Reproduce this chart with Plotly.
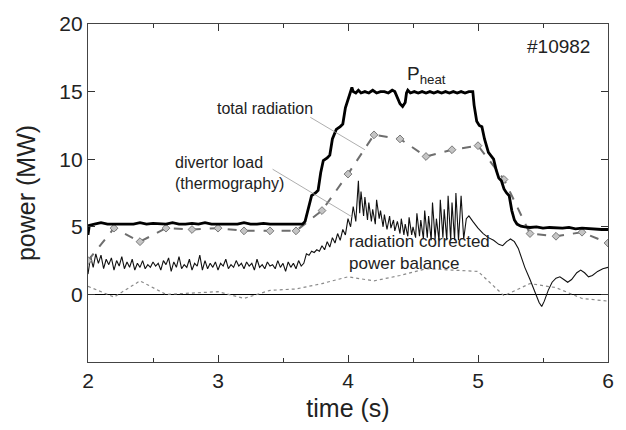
import plotly.graph_objects as go

# ---- data ----
t_heat = [2.00, 2.01, 2.05, 2.10, 2.15, 2.20, 2.25, 2.30, 2.35, 2.40, 2.45, 2.50, 2.55, 2.60, 2.65,
          2.70, 2.75, 2.80, 2.85, 2.90, 2.95, 3.00, 3.05, 3.10, 3.15, 3.20, 3.25, 3.30, 3.35, 3.40,
          3.45, 3.50, 3.55, 3.60, 3.65, 3.67, 3.70, 3.72, 3.75, 3.77, 3.79, 3.81, 3.84, 3.86, 3.88,
          3.91, 3.94, 3.96, 3.98, 4.01, 4.03, 4.04, 4.06, 4.08, 4.10, 4.13, 4.16, 4.19, 4.22, 4.25,
          4.28, 4.31, 4.34, 4.36, 4.38, 4.40, 4.42, 4.44, 4.45, 4.46, 4.48, 4.51, 4.54, 4.57, 4.60,
          4.63, 4.66, 4.69, 4.72, 4.75, 4.78, 4.81, 4.84, 4.87, 4.90, 4.93, 4.96, 4.97, 4.99, 5.01,
          5.03, 5.05, 5.08, 5.10, 5.12, 5.14, 5.16, 5.18, 5.20, 5.22, 5.24, 5.26, 5.28, 5.30, 5.33,
          5.36, 5.40, 5.45, 5.50, 5.55, 5.60, 5.65, 5.70, 5.75, 5.80, 5.85, 5.90, 5.95, 6.00]
p_heat = [4.4, 5.1, 5.2, 5.3, 5.2, 5.2, 5.25, 5.2, 5.2, 5.3, 5.2, 5.25, 5.2, 5.2, 5.3,
          5.2, 5.2, 5.25, 5.2, 5.3, 5.2, 5.2, 5.25, 5.2, 5.2, 5.3, 5.2, 5.2, 5.25, 5.2,
          5.2, 5.2, 5.25, 5.2, 5.2, 5.4, 6.5, 7.3, 7.5, 7.7, 9.0, 9.9, 10.1, 10.3, 11.5,
          12.2, 12.4, 12.6, 13.8, 14.8, 15.3, 15.0, 14.9, 15.1, 14.9, 15.0, 14.9, 15.1, 14.9, 15.0,
          15.0, 14.9, 15.1, 15.0, 14.6, 14.1, 13.9, 14.2, 14.9, 15.1, 14.9, 15.0, 14.9, 15.0, 14.9,
          15.0, 14.9, 15.0, 14.9, 15.0, 14.9, 15.0, 14.9, 15.0, 14.9, 15.0, 15.0, 14.0, 12.8, 12.5,
          12.4, 11.5, 10.5, 10.2, 10.0, 9.2, 8.6, 8.4, 7.8, 7.5, 7.3, 6.2, 5.5, 5.2, 5.05,
          5.0, 4.95, 5.0, 4.9, 4.95, 4.9, 4.9, 4.95, 4.85, 4.9, 4.85, 4.85, 4.8, 4.8]

t_rad = [2.0, 2.2, 2.4, 2.6, 2.8, 3.0, 3.2, 3.4, 3.6, 3.8, 4.0, 4.2, 4.4, 4.6, 4.8, 5.0,
         5.2, 5.4, 5.6, 5.8, 6.0]
p_rad = [2.5, 4.9, 3.9, 4.9, 4.8, 4.9, 4.7, 4.7, 4.7, 6.2, 8.9, 11.8, 11.5, 10.2, 10.7, 11.0,
         8.5, 4.5, 4.3, 4.6, 3.8]

t_div = [2.00, 2.02, 2.04, 2.06, 2.08, 2.10, 2.12, 2.14, 2.16, 2.18, 2.20, 2.22, 2.24, 2.26, 2.28,
         2.30, 2.32, 2.34, 2.36, 2.38, 2.40, 2.42, 2.44, 2.46, 2.48, 2.50, 2.52, 2.54, 2.56, 2.58,
         2.60, 2.62, 2.64, 2.66, 2.68, 2.70, 2.72, 2.74, 2.76, 2.78, 2.80, 2.82, 2.84, 2.86, 2.88,
         2.90, 2.92, 2.94, 2.96, 2.98, 3.00, 3.02, 3.04, 3.06, 3.08, 3.10, 3.12, 3.14, 3.16, 3.18,
         3.20, 3.22, 3.24, 3.26, 3.28, 3.30, 3.32, 3.34, 3.36, 3.38, 3.40, 3.42, 3.44, 3.46, 3.48,
         3.50, 3.52, 3.54, 3.56, 3.58, 3.60, 3.62, 3.64, 3.66, 3.68, 3.70, 3.72, 3.74, 3.76, 3.78,
         3.80, 3.82, 3.84, 3.86, 3.88, 3.90, 3.92, 3.94, 3.96, 3.98, 4.00, 4.02, 4.04, 4.06, 4.08,
         4.09, 4.10, 4.12, 4.13, 4.15, 4.16, 4.18, 4.19, 4.21, 4.22, 4.24, 4.25, 4.27, 4.28, 4.30,
         4.32, 4.33, 4.35, 4.36, 4.38, 4.40, 4.41, 4.43, 4.44, 4.46, 4.47, 4.49, 4.50, 4.52, 4.53,
         4.55, 4.56, 4.58, 4.59, 4.61, 4.62, 4.64, 4.65, 4.67, 4.68, 4.70, 4.71, 4.73, 4.74, 4.76,
         4.77, 4.79, 4.80, 4.82, 4.83, 4.85, 4.87, 4.89, 4.91, 4.93, 4.96, 5.00, 5.04, 5.08, 5.12,
         5.16, 5.19, 5.22, 5.25, 5.28, 5.31, 5.36, 5.40, 5.44, 5.47, 5.49, 5.51, 5.54, 5.57, 5.60,
         5.63, 5.66, 5.69, 5.72, 5.76, 5.79, 5.82, 5.85, 5.88, 5.92, 5.96, 6.00]
p_div = [1.5, 2.8, 2.0, 3.0, 2.3, 2.9, 1.9, 2.6, 2.2, 2.7, 1.8, 2.5, 2.1, 2.8, 1.9,
         2.4, 2.0, 2.6, 1.8, 2.3, 2.0, 2.5, 1.9, 2.2, 2.0, 2.4, 2.1, 2.3, 1.8, 2.5,
         2.2, 2.7, 1.7, 2.4, 2.0, 2.8, 1.9, 2.2, 2.0, 2.6, 1.8, 2.3, 2.1, 2.9, 1.8,
         2.5, 1.9, 2.3, 2.0, 2.4, 1.8, 2.3, 2.1, 2.6, 1.9, 2.2, 2.0, 2.5, 2.1, 2.3,
         1.9, 2.4, 2.1, 2.3, 1.8, 2.6, 2.0, 2.2, 1.9, 2.4, 2.1, 2.2, 1.9, 2.5, 2.0,
         2.3, 1.7, 2.4, 2.0, 2.3, 1.9, 2.5, 2.1, 2.3, 3.0, 2.9, 3.2, 3.1, 3.3, 3.2,
         3.6, 3.3, 3.9, 3.5, 4.2, 3.8, 4.5, 4.0, 4.8, 4.4, 5.6, 5.0, 6.5, 5.4, 8.4,
         6.0, 7.6, 5.8, 7.2, 5.5, 6.8, 5.4, 6.3, 5.2, 7.0, 5.6, 6.2, 5.0, 5.9, 4.8,
         5.8, 4.9, 5.5, 4.7, 5.4, 4.5, 5.6, 4.4, 5.2, 4.3, 5.7, 4.4, 5.0, 4.2, 6.0,
         4.3, 5.5, 4.1, 6.2, 4.2, 5.8, 4.0, 6.8, 4.1, 5.6, 4.0, 7.0, 4.2, 6.3, 4.0,
         7.3, 4.0, 6.8, 4.0, 7.5, 4.0, 7.3, 4.1, 5.6, 5.8, 5.4, 4.9, 4.5, 4.2, 4.0,
         3.7, 3.6, 3.9, 4.1, 3.9, 3.4, 2.0, 1.1, 0.2, -0.6, -0.9, -0.5, 0.3, 0.9, 1.2,
         1.3, 1.1, 0.9, 1.1, 1.6, 1.8, 1.6, 1.3, 1.4, 1.7, 1.9, 2.0]

t_bal = [2.0, 2.2, 2.4, 2.6, 2.8, 3.0, 3.2, 3.4, 3.6, 3.8, 4.0, 4.2, 4.4, 4.6, 4.8, 5.0,
         5.2, 5.4, 5.6, 5.8, 6.0]
p_bal = [0.6, -0.2, 1.0, 0.0, 0.1, 0.2, -0.3, 0.3, 0.4, 0.8, 1.3, 1.0, 1.4, 1.9, 1.8, 1.7,
         -0.1, 0.8, 0.5, -0.3, -0.5]

y_ticks = [0, 5, 10, 15, 20]
x_ticks = [2, 3, 4, 5, 6]

FONT = "Liberation Sans, Arial, Helvetica, sans-serif"

fig = go.Figure()
fig.add_trace(go.Scatter(x=t_bal, y=p_bal, mode="lines",
                         line=dict(color="#8a8a8a", width=1.2, dash="dot")))
fig.add_trace(go.Scatter(x=t_div, y=p_div, mode="lines",
                         line=dict(color="#111111", width=1.1)))
fig.add_trace(go.Scatter(x=t_rad, y=p_rad, mode="lines+markers",
                         line=dict(color="#6e6e6e", width=2, dash="dash"),
                         marker=dict(symbol="diamond", size=6, color="#c4c4c4",
                                     line=dict(color="#7a7a7a", width=1))))
fig.add_trace(go.Scatter(x=t_heat, y=p_heat, mode="lines",
                         line=dict(color="#000000", width=2.8)))

ann_font = dict(family=FONT, size=16, color="#222222")
fig.add_annotation(x=5.36, y=18.3, text="#10982", showarrow=False, xanchor="left",
                   font=dict(family=FONT, size=19, color="#222222"))
fig.add_annotation(x=4.44, y=16.2, text="P<sub>heat</sub>", showarrow=False, xanchor="left",
                   font=dict(family=FONT, size=19, color="#222222"))
fig.add_annotation(x=2.98, y=13.75, text="total radiation", showarrow=False, xanchor="left",
                   font=ann_font)
fig.add_annotation(x=2.65, y=9.0, text="divertor load<br>(thermography)", showarrow=False,
                   xanchor="left", align="left", font=ann_font)
fig.add_annotation(x=3.99, y=3.1, text="radiation corrected<br>power balance", showarrow=False,
                   xanchor="left", align="left", font=dict(family=FONT, size=17, color="#222222"))

# leader lines (label -> curve)
leaders = [((3.71, 13.1), (4.13, 10.7)), ((3.42, 9.26), (4.03, 5.74))]
for (x0, y0), (x1, y1) in leaders:
    fig.add_shape(type="line", xref="x", yref="y", x0=x0, y0=y0, x1=x1, y1=y1,
                  line=dict(color="#999999", width=0.8))

fig.update_layout(
    width=626, height=430,
    margin=dict(l=88, r=18, t=23, b=67),
    paper_bgcolor="white", plot_bgcolor="white",
    showlegend=False,
    font=dict(family=FONT, color="#222222"),
)
fig.update_xaxes(range=[2, 6], tickvals=x_ticks, ticks="inside", ticklen=7, tickcolor="#333",
                 mirror="ticks", showline=True, linecolor="#444", linewidth=1.2,
                 showgrid=False, zeroline=False,
                 minor=dict(dtick=0.5, ticks="inside", ticklen=4, tickcolor="#333"),
                 tickfont=dict(size=21), title=dict(text="time (s)", font=dict(size=25), standoff=8))
fig.update_yaxes(range=[-5, 20], tickvals=y_ticks, ticks="inside", ticklen=7, tickcolor="#333",
                 mirror="ticks", showline=True, linecolor="#444", linewidth=1.2,
                 showgrid=False, zeroline=True, zerolinecolor="#000", zerolinewidth=1,
                 tickfont=dict(size=21), title=dict(text="power (MW)", font=dict(size=25), standoff=16))

fig.write_html("out.html")
